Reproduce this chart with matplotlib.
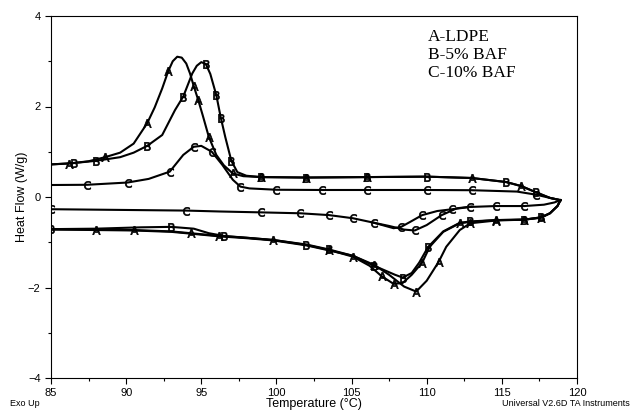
import matplotlib
matplotlib.use("Agg")
import matplotlib.pyplot as plt

# cooling scans (exo up), read from the tip at ~119 °C back down to 85 °C
cool_a_t = [118.9, 118.2, 117.3, 116.3, 115.3, 113.0, 110.0, 106.0, 102.0, 99.0, 97.8, 97.1, 96.5,
            96.0, 95.5, 95.1, 94.8, 94.5, 94.25, 94.0, 93.7, 93.4, 93.1, 92.8, 92.4, 91.9, 91.4,
            90.5, 89.6, 88.6, 87.5, 86.2, 85.0]
cool_a_v = [-0.07, -0.02, 0.10, 0.24, 0.33, 0.42, 0.45, 0.44, 0.43, 0.44, 0.46, 0.52, 0.70,
            0.93, 1.33, 1.80, 2.14, 2.45, 2.73, 2.95, 3.08, 3.10, 3.00, 2.78, 2.40, 1.98, 1.63,
            1.18, 0.98, 0.88, 0.79, 0.74, 0.72]

cool_b_t = [118.9, 118.2, 117.3, 116.3, 115.3, 113.0, 110.0, 106.0, 102.0, 99.0, 98.0, 97.4, 97.0,
            96.6, 96.3, 96.0, 95.6, 95.3, 95.0, 94.7, 94.4, 93.8, 93.25, 92.4, 91.4, 90.5, 89.6,
            88.0, 86.5, 85.0]
cool_b_v = [-0.07, -0.02, 0.10, 0.24, 0.33, 0.42, 0.45, 0.44, 0.43, 0.44, 0.47, 0.55, 0.80,
            1.32, 1.75, 2.25, 2.72, 2.94, 2.98, 2.90, 2.73, 2.22, 1.92, 1.37, 1.13, 0.98, 0.88,
            0.80, 0.75, 0.72]

cool_c_t = [118.9, 118.2, 117.3, 116.0, 113.0, 110.0, 106.0, 103.0, 100.0, 98.2, 97.6, 97.1, 96.4,
            95.7, 95.0, 94.5, 93.8, 92.9, 91.5, 90.1, 87.4, 85.0]
cool_c_v = [-0.07, -0.02, 0.05, 0.12, 0.15, 0.155, 0.155, 0.155, 0.16, 0.19, 0.23, 0.38, 0.71,
            1.00, 1.13, 1.11, 0.93, 0.56, 0.40, 0.32, 0.27, 0.265]

# heating scans (endotherm down)
heat_a1_t = [85.0, 88.0, 90.5, 93.0, 94.3, 96.2, 98.0, 99.8, 102.0, 103.5, 105.1, 106.2, 107.0,
             107.8, 108.4, 109.0, 109.7, 110.2, 111.1, 112.2, 112.9, 114.6, 116.5, 117.6, 118.2,
             118.7, 118.9]
heat_a1_v = [-0.71, -0.72, -0.73, -0.76, -0.80, -0.86, -0.90, -0.95, -1.06, -1.17, -1.32, -1.52,
             -1.75, -1.92, -1.90, -1.72, -1.45, -1.10, -0.77, -0.58, -0.55, -0.51, -0.50, -0.45,
             -0.36, -0.20, -0.07]

heat_b1_t = [85.0, 88.0, 91.0, 93.0, 94.5, 95.5, 96.5, 98.0, 99.8, 102.0, 103.5, 105.1, 106.5,
             107.9, 108.4, 109.0, 109.5, 110.1, 111.1, 112.2, 112.9, 114.6, 116.5, 117.6, 118.2,
             118.7, 118.9]
heat_b1_v = [-0.71, -0.70, -0.67, -0.66, -0.70, -0.80, -0.86, -0.90, -0.95, -1.05, -1.16, -1.30,
             -1.52, -1.72, -1.78, -1.68, -1.45, -1.10, -0.76, -0.57, -0.54, -0.51, -0.50, -0.45,
             -0.36, -0.20, -0.07]

heat_a2_t = [85.0, 88.0, 90.5, 93.0, 94.3, 96.2, 98.0, 99.8, 102.0, 103.5, 105.1, 106.5, 107.5,
             108.5, 109.3, 110.0, 110.8, 111.3, 112.2, 112.9, 114.6, 116.5, 117.6, 118.2, 118.7,
             118.9]
heat_a2_v = [-0.72, -0.73, -0.74, -0.77, -0.81, -0.87, -0.91, -0.96, -1.07, -1.18, -1.30, -1.50,
             -1.72, -1.98, -2.09, -1.85, -1.43, -1.10, -0.73, -0.58, -0.52, -0.50, -0.46, -0.36,
             -0.20, -0.07]

heat_c1_t = [85.0, 88.0, 91.0, 94.0, 96.2, 99.0, 101.6, 103.5, 105.1, 106.5, 107.8, 108.3, 108.9,
             109.7, 110.7, 111.7, 112.9, 114.6, 116.5, 117.8, 118.5, 118.9]
heat_c1_v = [-0.27, -0.28, -0.29, -0.30, -0.32, -0.34, -0.36, -0.40, -0.47, -0.57, -0.69, -0.66,
             -0.55, -0.40, -0.31, -0.27, -0.22, -0.20, -0.20, -0.17, -0.12, -0.07]

heat_c2_t = [106.5, 107.5, 108.5, 109.2, 110.0, 111.0, 112.0, 113.0]
heat_c2_v = [-0.57, -0.64, -0.72, -0.74, -0.62, -0.40, -0.25, -0.21]

legend_lines = ["A-LDPE", "B-5% BAF", "C-10% BAF"]

fig = plt.figure(figsize=(6.32, 4.12), dpi=100)
ax = fig.add_axes([51 / 632, 34 / 412, 526 / 632, 362 / 412])

mk = dict(color="black", lw=1.5, markersize=6, markeredgewidth=0.5)
MA, MB, MC = r"$\mathrm{A}$", r"$\mathrm{B}$", r"$\mathrm{C}$"

ax.plot(cool_a_t, cool_a_v, marker=MA, markevery=[3, 5, 7, 8, 9, 11, 14, 16, 17, 23, 26, 29, 31], **mk)
ax.plot(cool_b_t, cool_b_v, marker=MB, markevery=[2, 4, 6, 7, 8, 9, 12, 14, 15, 17, 21, 24, 27, 28], **mk)
ax.plot(cool_c_t, cool_c_v, marker=MC, markevery=[2, 4, 5, 6, 7, 8, 10, 13, 15, 17, 19, 20], **mk)

ax.plot(heat_a1_t, heat_a1_v, marker=MA, markevery=[1, 4, 7, 9, 10, 12, 13, 16, 19, 21, 22], **mk)
ax.plot(heat_b1_t, heat_b1_v, marker=MB, markevery=[0, 3, 6, 9, 10, 12, 14, 17, 20, 22, 23], **mk)
ax.plot(heat_a2_t, heat_a2_v, marker=MA, markevery=[2, 5, 11, 14, 16, 19, 20, 22], **mk)
ax.plot(heat_c1_t, heat_c1_v, marker=MC, markevery=[0, 3, 5, 6, 7, 8, 9, 11, 13, 15, 16, 17, 18], **mk)
ax.plot(heat_c2_t, heat_c2_v, marker=MC, markevery=[3, 5], **mk)

ax.set_xlim(85, 120)
ax.set_ylim(-4, 4)
ax.set_xticks([85, 90, 95, 100, 105, 110, 115, 120])
ax.set_xticks([87.5, 92.5, 97.5, 102.5, 107.5, 112.5, 117.5], minor=True)
ax.set_yticks([-4, -2, 0, 2, 4])
ax.set_yticks([-3, -1, 1, 3], minor=True)
ax.tick_params(which="both", direction="out", labelsize=8, width=0.8)
ax.tick_params(which="major", length=4)
ax.tick_params(which="minor", length=2.5)
for lab in ax.get_xticklabels() + ax.get_yticklabels():
    lab.set_family("Liberation Sans")
for s in ax.spines.values():
    s.set_linewidth(0.8)

ax.set_ylabel("Heat Flow (W/g)", family="Liberation Sans", fontsize=9, labelpad=0)
ax.set_xlabel("Temperature (°C)", family="Liberation Sans", fontsize=9, labelpad=0)

ax.text(0.717, 0.965, "\n".join(legend_lines), transform=ax.transAxes, ha="left", va="top",
        family="Liberation Serif", fontsize=12.5, linespacing=1.2)

fig.text(10 / 632, 1 - 404 / 412, "Exo Up", family="Liberation Sans", fontsize=6.5, va="center")
fig.text(630 / 632, 1 - 404 / 412, "Universal V2.6D TA Instruments", family="Liberation Sans",
         fontsize=6.5, va="center", ha="right")

fig.savefig("out.png", dpi=100)
